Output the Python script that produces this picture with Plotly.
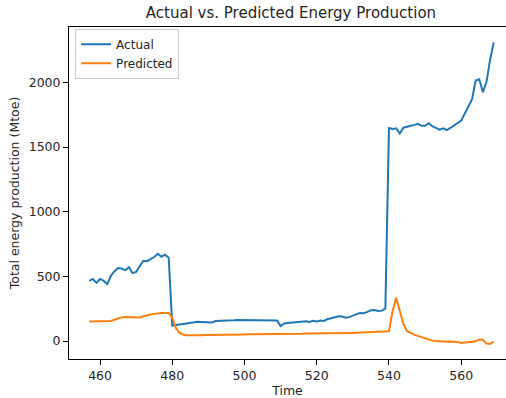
import plotly.graph_objects as go

# Time index (one point per step)
time = list(range(457, 570))

actual = [
    465, 480, 450, 480, 465, 440, 505, 540, 565, 560,
    548, 570, 525, 535, 580, 620, 618, 632, 650, 675,
    652, 668, 645,
    120, 122, 128, 132, 138, 140, 148, 150, 148, 148,
    145, 143, 155, 155, 158, 158, 160, 160, 162, 162,
    162, 163, 163, 163, 162, 162, 162, 162, 160, 158,
    115, 136, 140, 142, 144, 146, 150, 153, 148, 156,
    152, 158, 155, 170, 176, 185, 192, 190, 180, 185,
    198, 208, 216, 215, 225, 238, 240, 232, 235, 250,
    1647, 1640, 1645, 1605, 1650, 1655, 1665, 1672, 1680, 1665,
    1665, 1685, 1662, 1648, 1635, 1645, 1632, 1648, 1668, 1690,
    1705, 1760, 1810, 1870, 2015, 2025, 1925, 2005, 2175, 2310,
]

predicted = [
    152, 152, 152, 152, 152, 152, 155, 165, 175, 183,
    185, 185, 183, 180, 182, 192, 200, 205, 210, 215,
    216, 216, 216,
    180, 100, 62, 50, 45, 44, 44, 45, 45, 46,
    46, 47, 47, 48, 48, 49, 49, 50, 50, 51,
    51, 52, 52, 53, 53, 54, 54, 55, 55, 55,
    55, 56, 56, 56, 57, 57, 57, 58, 58, 58,
    58, 59, 59, 60, 60, 61, 61, 62, 62, 63,
    63, 64, 65, 66, 67, 68, 69, 70, 71, 72,
    75, 230, 335, 232, 132, 76, 60, 50, 40, 30,
    20, 10, 3, 0, -3, -2, -5, -3, -5, -8,
    -15, -10, -5, -5, -2, 12, 10, -20, -22, -5,
]

font_family = "DejaVu Sans"
text_color = "#262626"

fig = go.Figure()
fig.add_trace(go.Scatter(x=time, y=actual, mode="lines", name="Actual",
                         line=dict(color="#1f77b4", width=2)))
fig.add_trace(go.Scatter(x=time, y=predicted, mode="lines", name="Predicted",
                         line=dict(color="#ff7f0e", width=2)))

axis_common = dict(
    showgrid=False, zeroline=False, showline=True, linecolor="#000000",
    linewidth=1, ticks="outside", ticklen=5, tickwidth=1, tickcolor="#000000",
    tickfont=dict(family=font_family, size=12.5, color=text_color),
)

fig.update_layout(
    width=506, height=398,
    margin=dict(l=69, r=0, t=27, b=39),
    paper_bgcolor="white", plot_bgcolor="white",
    font=dict(family=font_family, color=text_color),
    title=dict(text="Actual vs. Predicted Energy Production",
               font=dict(family=font_family, size=15, color=text_color),
               xref="container", x=0.575, xanchor="center",
               yref="container", y=0.967, yanchor="middle"),
    xaxis=dict(range=[451.4, 572.4], tickvals=[460, 480, 500, 520, 540, 560],
               mirror=True,
               title=dict(text="Time", standoff=4,
                          font=dict(family=font_family, size=12.5, color=text_color)),
               **axis_common),
    yaxis=dict(range=[-139, 2429], tickvals=[0, 500, 1000, 1500, 2000],
               title=dict(text="Total energy production (Mtoe)", standoff=6,
                          font=dict(family=font_family, size=12.5, color=text_color)),
               **axis_common),
    legend=dict(x=0.014, y=0.995, xanchor="left", yanchor="top",
                bgcolor="rgba(255,255,255,0.8)", bordercolor="#cccccc", borderwidth=1,
                font=dict(family=font_family, size=12, color=text_color),
                itemwidth=30),
    showlegend=True,
)

fig.write_html("out.html")
